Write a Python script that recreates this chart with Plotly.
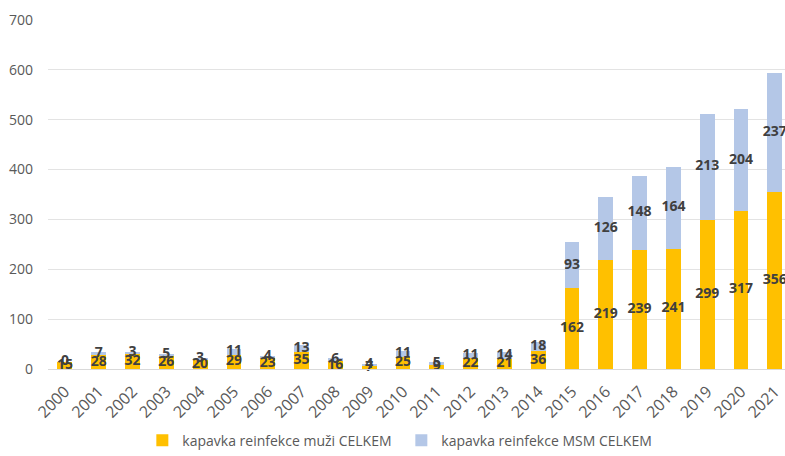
import plotly.graph_objects as go

years = [str(y) for y in range(2000, 2022)]
muzi = [15, 28, 32, 26, 20, 29, 23, 35, 16, 7, 25, 9, 22, 21, 36, 162, 219, 239, 241, 299, 317, 356]
msm = [0, 7, 3, 5, 3, 11, 4, 13, 6, 4, 11, 5, 11, 14, 18, 93, 126, 148, 164, 213, 204, 237]
name_muzi = "kapavka reinfekce muži CELKEM"
name_msm = "kapavka reinfekce MSM CELKEM"
yticks = [0, 100, 200, 300, 400, 500, 600, 700]

YELLOW = "#FFC000"
BLUE = "#B4C7E7"
FONT = "'Open Sans', sans-serif"
LABEL_COLOR = "#404040"
AXIS_COLOR = "#595959"

fig = go.Figure()
fig.add_trace(go.Bar(x=years, y=muzi, name=name_muzi, marker_color=YELLOW,
                     marker_line_width=0, hoverinfo="skip"))
fig.add_trace(go.Bar(x=years, y=msm, name=name_msm, marker_color=BLUE,
                     marker_line_width=0, hoverinfo="skip"))

# data labels centred in each segment
mid_muzi = [m / 2 for m in muzi]
mid_msm = [m + s / 2 for m, s in zip(muzi, msm)]
fig.add_trace(go.Scatter(x=years, y=mid_muzi, mode="text", text=[str(v) for v in muzi],
                         textfont=dict(family=FONT, size=14, color=LABEL_COLOR, weight="bold"),
                         showlegend=False, hoverinfo="skip", cliponaxis=False))
fig.add_trace(go.Scatter(x=years, y=mid_msm, mode="text", text=[str(v) for v in msm],
                         textfont=dict(family=FONT, size=14, color=LABEL_COLOR, weight="bold"),
                         showlegend=False, hoverinfo="skip", cliponaxis=False))

fig.update_layout(
    width=785, height=456,
    margin=dict(l=48, r=0, t=20, b=87, autoexpand=False),
    barmode="stack", bargap=0.56,
    plot_bgcolor="white", paper_bgcolor="white",
    font=dict(family=FONT, size=14, color=AXIS_COLOR),
    legend=dict(orientation="h", x=0.128, xanchor="left", y=-0.205, yanchor="middle",
                font=dict(size=14, color=AXIS_COLOR), itemwidth=30, entrywidth=214,
                traceorder="normal"),
    xaxis=dict(type="category", range=[-0.5, 21.3], tickangle=-45, automargin=False,
               showline=True, linecolor="#D9D9D9", linewidth=1, ticks="",
               ticklabelstandoff=6,
               tickfont=dict(size=16, color=AXIS_COLOR)),
    yaxis=dict(range=[0, 700], tickvals=yticks, showgrid=True, gridcolor="#E3E3E3",
               gridwidth=1, zeroline=False, ticks="", ticklabelstandoff=14, automargin=False,
               tickfont=dict(size=14, color=AXIS_COLOR)),
)

fig.write_html("out.html")
